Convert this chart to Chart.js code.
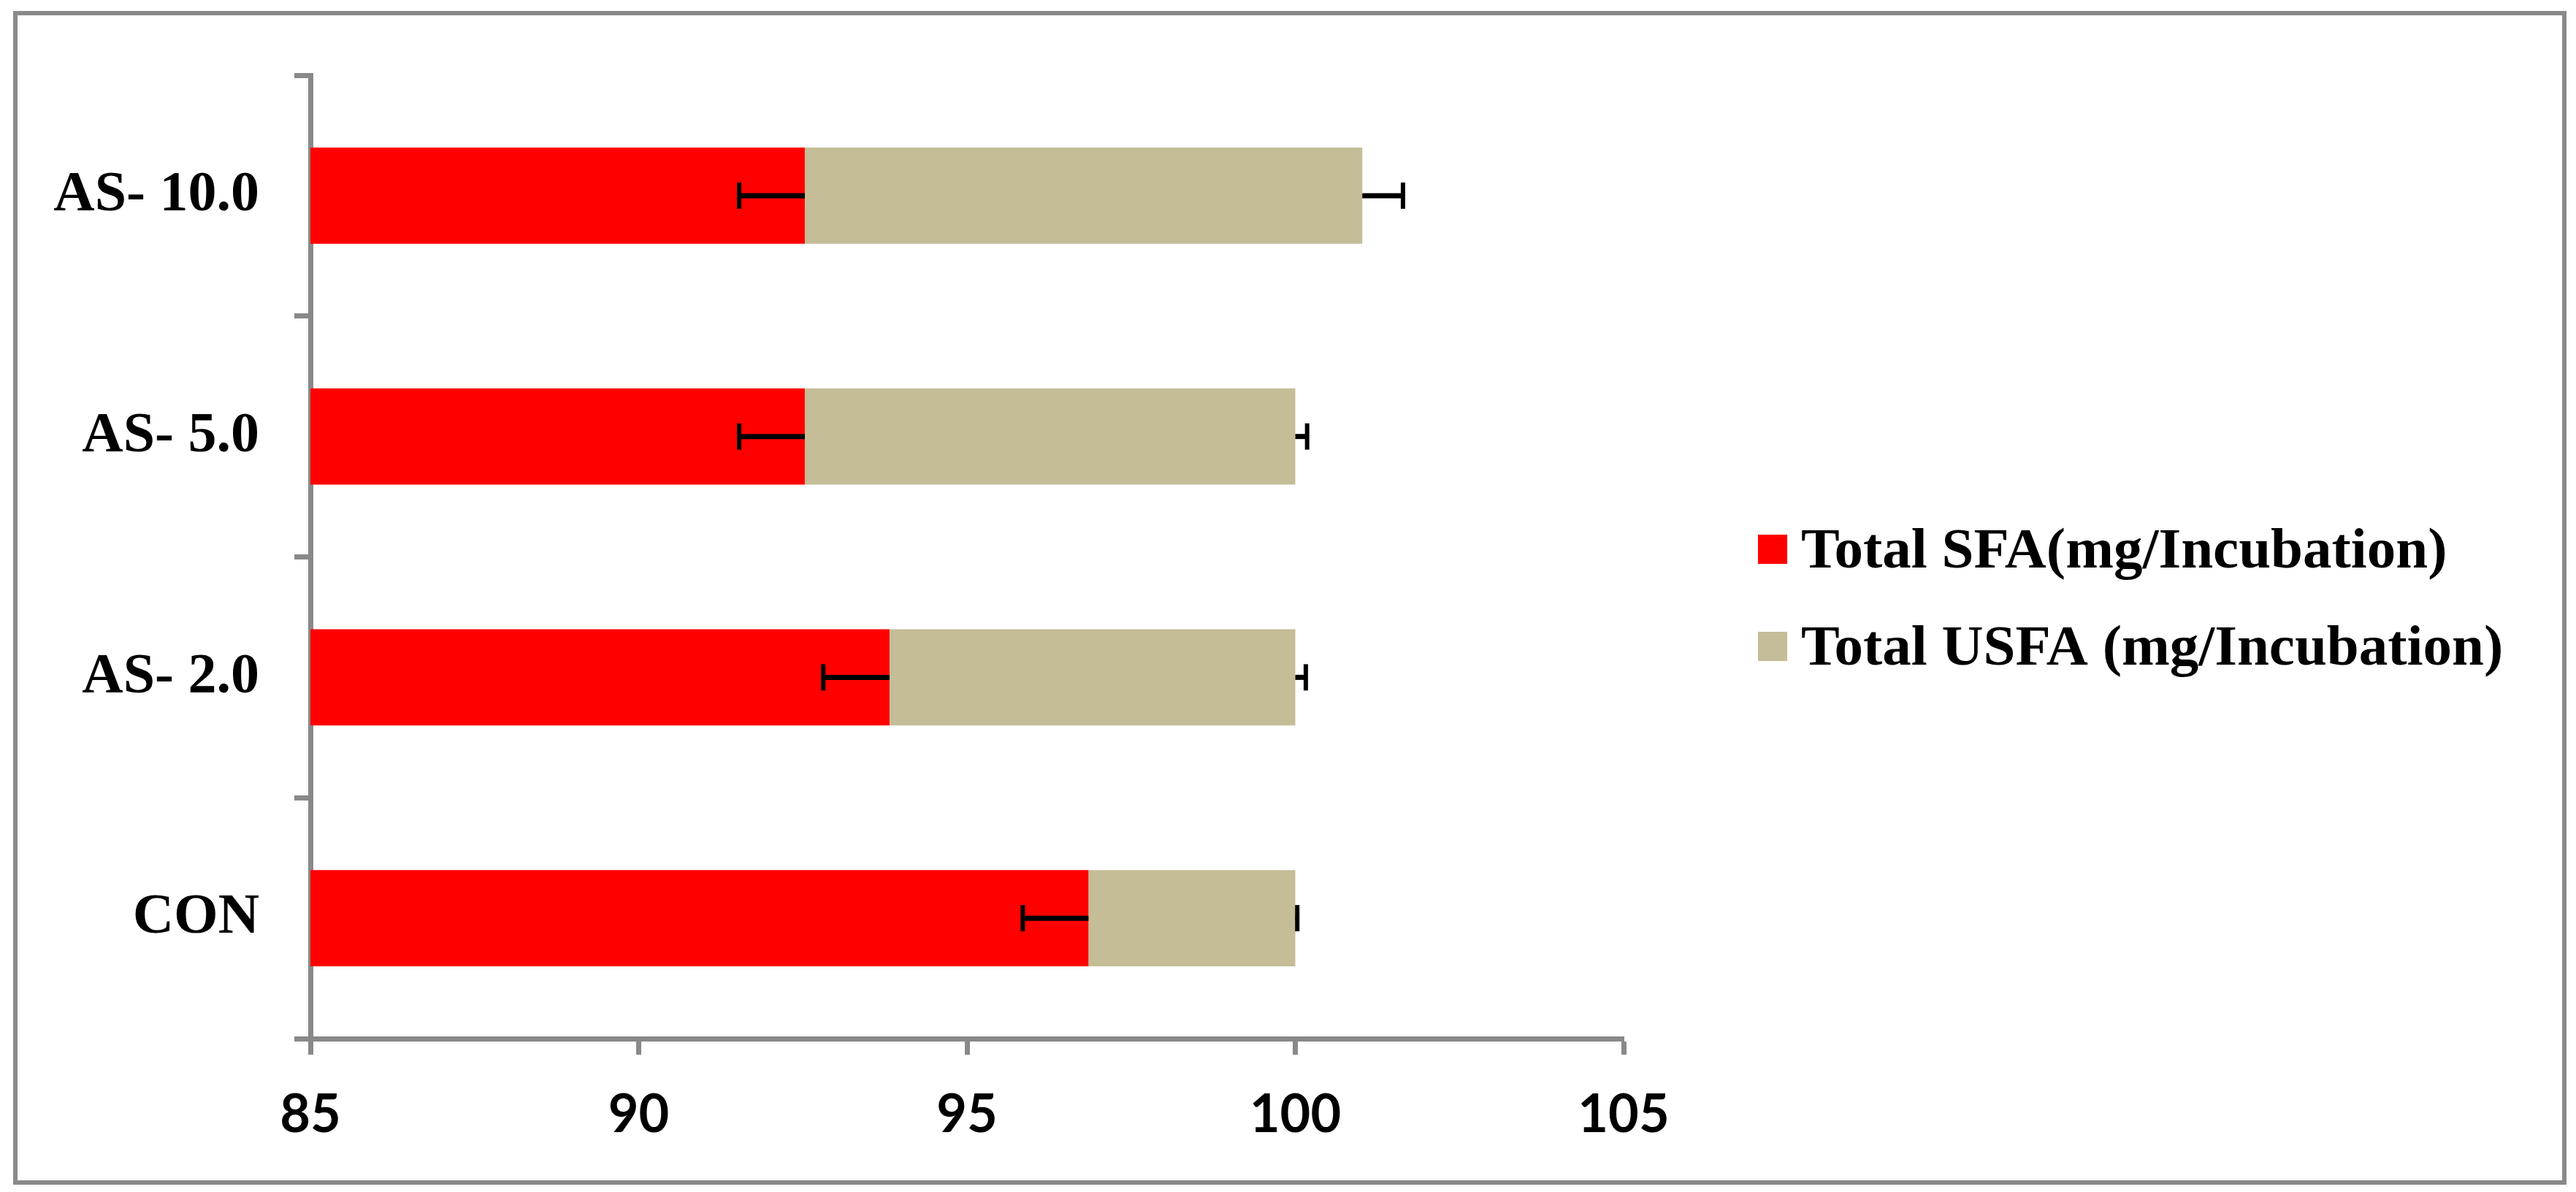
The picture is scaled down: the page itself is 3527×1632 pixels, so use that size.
<!DOCTYPE html>
<html>
<head>
<meta charset="utf-8">
<script src="https://cdn.jsdelivr.net/npm/chart.js@4.4.1/dist/chart.umd.min.js"></script>
<style>
  html, body { margin: 0; padding: 0; background: #ffffff; }
  canvas { display: block; }
</style>
</head>
<body>
<canvas id="fa-chart" width="3527" height="1632"></canvas>
<script>
// Data (bottom to top)
const categories = ['CON', 'AS- 2.0', 'AS- 5.0', 'AS- 10.0'];
const sfaValues = [96.85, 93.82, 92.53, 92.53];
const usfaValues = [3.15, 6.18, 7.47, 8.49];
const sfaErrors = [1.0, 1.01, 1.0, 1.0];
const usfaErrors = [0.03, 0.16, 0.18, 0.62];
const xTicks = [85, 90, 95, 100, 105];

const seriesLabels = ['Total SFA(mg/Incubation)', 'Total USFA (mg/Incubation)'];
const seriesColors = ['#FF0000', '#C4BD97'];

const AXIS_GREY = '#898989';
const SERIF = '"Liberation Serif", "Times New Roman", serif';

// Outer frame round the whole figure
const framePlugin = {
  id: 'frame',
  beforeDraw(chart) {
    const ctx = chart.ctx;
    ctx.save();
    ctx.fillStyle = '#ffffff';
    ctx.fillRect(0, 0, chart.width, chart.height);
    ctx.strokeStyle = AXIS_GREY;
    ctx.lineWidth = 6;
    ctx.strokeRect(21, 18, chart.width - 21 - 16, chart.height - 18 - 13);
    ctx.restore();
  }
};

// One-sided error bars: minus for SFA, plus for USFA (Excel style)
const errorBarPlugin = {
  id: 'errorBars',
  afterDatasetsDraw(chart) {
    const ctx = chart.ctx;
    const xScale = chart.scales.x;
    const yScale = chart.scales.y;
    ctx.save();
    ctx.strokeStyle = '#000000';
    categories.forEach((cat, i) => {
      const y = yScale.getPixelForValue(i);
      const sfaEnd = sfaValues[i];
      const total = sfaValues[i] + usfaValues[i];

      const segments = [
        [xScale.getPixelForValue(sfaEnd), xScale.getPixelForValue(sfaEnd - sfaErrors[i])],
        [xScale.getPixelForValue(total), xScale.getPixelForValue(total + usfaErrors[i])]
      ];
      segments.forEach(([from, to]) => {
        ctx.lineWidth = 7;
        ctx.beginPath();
        ctx.moveTo(from, y);
        ctx.lineTo(to, y);
        ctx.stroke();
        ctx.lineWidth = 6;
        ctx.beginPath();
        ctx.moveTo(to, y - 18);
        ctx.lineTo(to, y + 18);
        ctx.stroke();
      });
    });
    ctx.restore();
  }
};

// Legend drawn to the right of the plot
const sideLegendPlugin = {
  id: 'sideLegend',
  afterDraw(chart) {
    const ctx = chart.ctx;
    const left = chart.chartArea.right + 184;
    const rows = [777, 910];
    ctx.save();
    ctx.font = 'bold 79px ' + SERIF;
    ctx.textBaseline = 'alphabetic';
    ctx.textAlign = 'left';
    chart.data.datasets.forEach((ds, i) => {
      const base = rows[i];
      ctx.fillStyle = ds.backgroundColor;
      ctx.fillRect(left, base - 45, 40, 40);
      ctx.fillStyle = '#000000';
      ctx.fillText(ds.label, left + 59, base);
    });
    ctx.restore();
  }
};

new Chart(document.getElementById('fa-chart'), {
  type: 'bar',
  data: {
    labels: categories,
    datasets: [
      {
        label: seriesLabels[0],
        data: sfaValues,
        backgroundColor: seriesColors[0],
        borderWidth: 0,
        barPercentage: 0.4,
        categoryPercentage: 1.0
      },
      {
        label: seriesLabels[1],
        data: usfaValues,
        backgroundColor: seriesColors[1],
        borderWidth: 0,
        barPercentage: 0.4,
        categoryPercentage: 1.0
      }
    ]
  },
  options: {
    indexAxis: 'y',
    responsive: false,
    animation: false,
    devicePixelRatio: 1,
    layout: {
      padding: { left: 0, top: 103, right: 1304, bottom: 0 }
    },
    scales: {
      x: {
        stacked: true,
        min: xTicks[0],
        max: xTicks[xTicks.length - 1],
        afterBuildTicks(scale) {
          scale.ticks = xTicks.map(v => ({ value: v }));
        },
        afterFit(scale) {
          scale.height = 210;
        },
        border: { display: true, color: AXIS_GREY, width: 7 },
        grid: {
          drawOnChartArea: false,
          drawTicks: true,
          tickLength: 22,
          tickWidth: 7,
          tickColor: AXIS_GREY
        },
        ticks: {
          color: '#000000',
          padding: 40,
          font: { family: 'Lato, "Open Sans", sans-serif', size: 72, weight: 'bold' }
        }
      },
      y: {
        stacked: true,
        reverse: true,
        afterFit(scale) {
          scale.width = 425;
        },
        border: { display: true, color: AXIS_GREY, width: 7 },
        grid: {
          offset: true,
          drawOnChartArea: false,
          drawTicks: true,
          tickLength: 22,
          tickWidth: 7,
          tickColor: AXIS_GREY
        },
        ticks: {
          color: '#000000',
          padding: 48,
          font: { family: SERIF, size: 78, weight: 'bold' }
        }
      }
    },
    plugins: {
      legend: { display: false },
      tooltip: { enabled: false }
    }
  },
  plugins: [framePlugin, errorBarPlugin, sideLegendPlugin]
});
</script>
</body>
</html>
